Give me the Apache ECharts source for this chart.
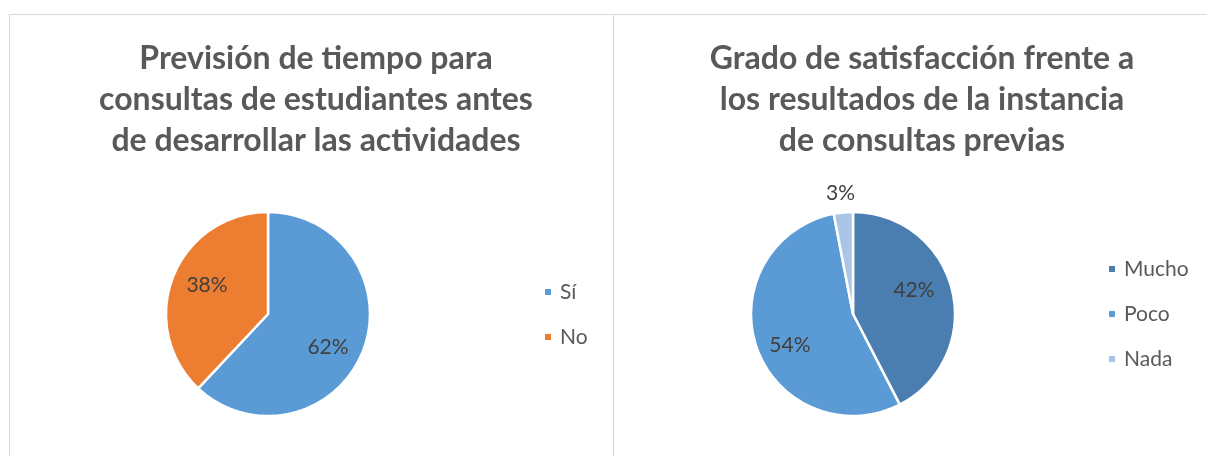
<!DOCTYPE html>
<html>
<head>
<meta charset="utf-8">
<script src="https://cdn.jsdelivr.net/npm/echarts@6/dist/echarts.min.js"></script>
<style>
html,body{margin:0;padding:0;background:#fff;}
#c{width:1207px;height:456px;}
</style>
</head>
<body>
<div id="c"></div>
<script>
// ---- Data ----
const title1 = 'Previsión de tiempo para\nconsultas de estudiantes antes\nde desarrollar las actividades';
const title2 = 'Grado de satisfacción frente a\nlos resultados de la instancia\nde consultas previas';
const cats1 = ['Sí', 'No'];
const vals1 = [62, 38];
const cats2 = ['Mucho', 'Poco', 'Nada'];
const vals2 = [42, 54, 3];

// ---- Styles ----
const colors1 = ['#5B9BD5', '#ED7D31'];
const colors2 = ['#4A7EB1', '#5B9BD5', '#A9C4E6'];
// small label nudges to mimic the spreadsheet's "best fit" label placement
const labelNudge1 = [[-6, 7], [5, -3]];
const labelNudge2 = [[-8, -7], [4, 8], [4, 0]];
const FONT = 'Lato';
const labelColor = '#404040';
const textGrey = '#595959';

const chart = echarts.init(document.getElementById('c'), null, {renderer: 'canvas'});

function mainData(cats, vals, colors, outsideIdx, nudge) {
  return cats.map((n, i) => ({
    name: n, value: vals[i],
    itemStyle: {color: colors[i]},
    label: {show: i === outsideIdx, offset: nudge[i]}
  }));
}
function overlayData(cats, vals, outsideIdx, nudge) {
  return cats.map((n, i) => ({
    name: n, value: vals[i],
    itemStyle: {color: 'rgba(0,0,0,0)'},
    label: {show: i !== outsideIdx, offset: nudge[i]}
  }));
}

const R = 102;
const labelR = 136;
const c1 = [268, 314];
const c2 = [853, 314];

const baseMain = {
  type: 'pie', radius: R, startAngle: 90, clockwise: true,
  avoidLabelOverlap: false,
  itemStyle: {borderColor: '#fff', borderWidth: 2.5},
  emphasis: {disabled: true},
  label: {position: 'outside', formatter: '{c}%', color: labelColor, fontFamily: FONT, fontSize: 21},
  labelLine: {show: false, length: 19, length2: 0},
  animation: false
};
const baseOverlay = {
  type: 'pie', radius: labelR, startAngle: 90, clockwise: true, silent: true,
  avoidLabelOverlap: false,
  emphasis: {disabled: true},
  label: {position: 'inside', formatter: '{c}%', color: labelColor, fontFamily: FONT, fontSize: 21},
  labelLine: {show: false},
  animation: false
};

const legendBase = {
  orient: 'vertical', icon: 'rect', itemWidth: 8, itemHeight: 8,
  itemGap: 21, selectedMode: false, padding: 0,
  textStyle: {color: textGrey, fontFamily: FONT, fontSize: 21, lineHeight: 24, padding: [0, 0, 0, 3]}
};

chart.setOption({
  backgroundColor: '#fff',
  graphic: [
    {type: 'line', shape: {x1: 9.5, y1: 14.5, x2: 1207, y2: 14.5}, style: {stroke: '#D9D9D9', lineWidth: 1}, silent: true},
    {type: 'line', shape: {x1: 9.5, y1: 14.5, x2: 9.5, y2: 456}, style: {stroke: '#D9D9D9', lineWidth: 1}, silent: true},
    {type: 'line', shape: {x1: 613.5, y1: 14.5, x2: 613.5, y2: 456}, style: {stroke: '#D9D9D9', lineWidth: 1}, silent: true}
  ],
  title: [
    {text: title1, left: 311, top: 33, textAlign: 'center',
     textStyle: {fontFamily: FONT, fontWeight: 'bold', fontSize: 32, lineHeight: 41, color: textGrey}},
    {text: title2, left: 917, top: 33, textAlign: 'center',
     textStyle: {fontFamily: FONT, fontWeight: 'bold', fontSize: 32, lineHeight: 41, color: textGrey}}
  ],
  legend: [
    Object.assign({}, legendBase, {data: cats1, left: 543, top: 280}),
    Object.assign({}, legendBase, {data: cats2, left: 1107, top: 257})
  ],
  series: [
    Object.assign({}, baseMain, {name: 's1', center: c1, data: mainData(cats1, vals1, colors1, -1, labelNudge1)}),
    Object.assign({}, baseMain, {name: 's2', center: c2, data: mainData(cats2, vals2, colors2, 2, labelNudge2),
      labelLayout: function (p) { return p.dataIndex === 2 ? {align: 'center'} : {}; }}),
    Object.assign({}, baseOverlay, {name: 'o1', center: c1, data: overlayData(cats1, vals1, -1, labelNudge1)}),
    Object.assign({}, baseOverlay, {name: 'o2', center: c2, data: overlayData(cats2, vals2, 2, labelNudge2)})
  ]
});
</script>
</body>
</html>
